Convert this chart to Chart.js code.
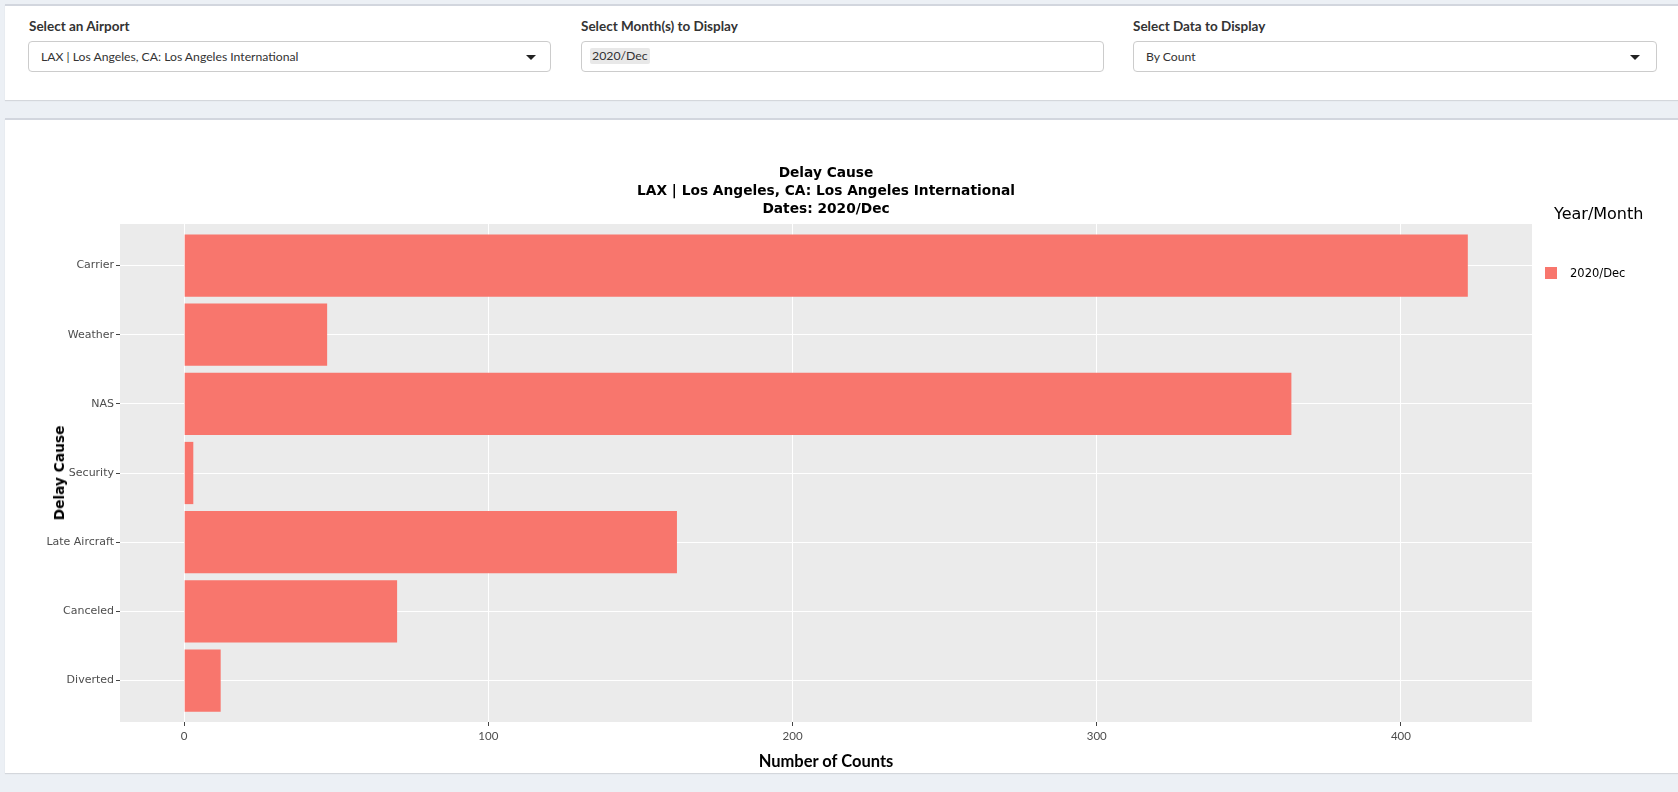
<!DOCTYPE html>
<html>
<head>
<meta charset="utf-8">
<script src="https://cdn.jsdelivr.net/npm/chart.js@4/dist/chart.umd.min.js"></script>
<style>
  html, body { margin:0; padding:0; }
  body { width:1678px; height:792px; background:#ecf0f5; position:relative; overflow:hidden; font-family: Lato, "Open Sans", sans-serif; }
  .box { position:absolute; left:5px; right:0; background:#fff; border-top:2px solid #d2d6de; box-shadow:0 1px 1px rgba(0,0,0,0.1); }
  .lbl { position:absolute; font-weight:bold; font-size:13.5px; color:#333; line-height:16px; }
  .sel { position:absolute; height:29px; border:1px solid #ccc; border-radius:4px; background:#fff; box-sizing:content-box; }
  .sel .txt { position:absolute; left:12px; top:0; line-height:29px; font-size:12.2px; color:#333; white-space:nowrap; }
  .caret { position:absolute; top:13px; width:0; height:0; border-left:5px solid transparent; border-right:5px solid transparent; border-top:5px solid #222; }
  .tag { position:absolute; left:8px; top:6px; height:16px; line-height:16px; padding:0 2px; background:#e8e8e8; font-size:12.3px; color:#333; border-radius:2px; }
  .ctitle { position:absolute; left:476px; width:700px; top:163px; text-align:center; font-family:"DejaVu Sans", Verdana, sans-serif; font-weight:bold; font-size:13.75px; line-height:18.2px; color:#000; }
  .ytitle { position:absolute; left:59px; top:473px; transform:translate(-50%,-50%) rotate(-90deg); font-family:"DejaVu Sans", Verdana, sans-serif; font-weight:bold; font-size:13.75px; white-space:nowrap; color:#000; }
  .xtitle { position:absolute; left:826px; top:761px; transform:translate(-50%,-50%); font-family:Lato, "Open Sans", sans-serif; font-weight:bold; font-size:16.5px; white-space:nowrap; color:#000; }
  .legtitle { position:absolute; left:1554px; top:213px; transform:translateY(-50%); font-family:"DejaVu Sans", Verdana, sans-serif; font-size:16px; color:#000; white-space:nowrap; }
  .legkey { position:absolute; left:1545px; top:267px; width:12px; height:12px; background:#F8766D; }
  .legtxt { position:absolute; left:1570px; top:273px; transform:translateY(-50%); font-family:"DejaVu Sans", Verdana, sans-serif; font-size:11.5px; color:#000; white-space:nowrap; }
  canvas { position:absolute; left:0; top:120px; }
</style>
</head>
<body>
<div class="box" style="top:4px;height:94px;"></div>
<div class="box" style="top:118px;height:653px;"></div>

<div class="lbl" style="left:29px;top:18px;">Select an Airport</div>
<div class="sel" style="left:28px;top:41px;width:521px;"><span class="txt">LAX | Los Angeles, CA: Los Angeles International</span><span class="caret" style="left:497px;"></span></div>

<div class="lbl" style="left:581px;top:18px;">Select Month(s) to Display</div>
<div class="sel" style="left:581px;top:41px;width:521px;"><span class="tag">2020/Dec</span></div>

<div class="lbl" style="left:1133px;top:18px;">Select Data to Display</div>
<div class="sel" style="left:1133px;top:41px;width:522px;"><span class="txt">By Count</span><span class="caret" style="left:496px;"></span></div>

<canvas id="c" width="1678" height="653"></canvas>

<div class="ctitle">Delay Cause<br>LAX | Los Angeles, CA: Los Angeles International<br>Dates: 2020/Dec</div>
<div class="ytitle">Delay Cause</div>
<div class="xtitle">Number of Counts</div>
<div class="legtitle">Year/Month</div>
<div class="legkey"></div>
<div class="legtxt">2020/Dec</div>

<script>
const categories = ['Carrier', 'Weather', 'NAS', 'Security', 'Late Aircraft', 'Canceled', 'Diverted'];
const counts = [422, 47, 364, 3, 162, 70, 12];
const xTickValues = [0, 100, 200, 300, 400];
const seriesLabel = '2020/Dec';

const barColor = '#F8766D';
const panelBg = {
  id: 'panelBg',
  beforeDraw(chart) {
    const { ctx, chartArea: a } = chart;
    ctx.save();
    ctx.fillStyle = '#EBEBEB';
    ctx.fillRect(a.left, a.top, a.right - a.left, a.bottom - a.top);
    ctx.restore();
  }
};

const maxVal = Math.max(...counts);
const points = categories.map((c, i) => ({ x: counts[i], y: i }));

new Chart(document.getElementById('c'), {
  type: 'bar',
  data: {
    datasets: [{
      label: seriesLabel,
      data: points,
      backgroundColor: barColor,
      borderWidth: 0,
      categoryPercentage: 0.9,
      barPercentage: 1.0
    }]
  },
  options: {
    indexAxis: 'y',
    responsive: false,
    animation: false,
    layout: { padding: { left: 0, top: 104, right: 146, bottom: 0 } },
    plugins: { legend: { display: false }, tooltip: { enabled: false }, title: { display: false } },
    scales: {
      x: {
        type: 'linear',
        min: -0.05 * maxVal,
        max: maxVal * 1.05,
        offset: false,
        afterBuildTicks: s => { s.ticks = xTickValues.map(v => ({ value: v })); },
        afterFit: s => { s.height = 51; },
        grid: { color: '#ffffff', lineWidth: 1, drawTicks: true, tickColor: '#444', tickLength: 4, tickWidth: 1 },
        border: { display: false },
        ticks: {
          autoSkip: false, maxRotation: 0, padding: 3, color: '#4d4d4d',
          font: { family: 'Lato, "Open Sans", sans-serif', size: 11.5 }
        }
      },
      y: {
        type: 'linear',
        reverse: true,
        offset: false,
        min: -0.6,
        max: categories.length - 1 + 0.6,
        afterBuildTicks: s => { s.ticks = categories.map((c, i) => ({ value: i })); },
        afterFit: s => { s.width = 120; },
        grid: { color: '#ffffff', lineWidth: 1, offset: false, drawTicks: true, tickColor: '#444', tickLength: 4, tickWidth: 1 },
        border: { display: false },
        ticks: {
          autoSkip: false, padding: 2, color: '#4d4d4d',
          callback: v => categories[v],
          font: { family: '"DejaVu Sans", Verdana, sans-serif', size: 11 }
        }
      }
    }
  },
  plugins: [panelBg]
});
</script>
</body>
</html>
